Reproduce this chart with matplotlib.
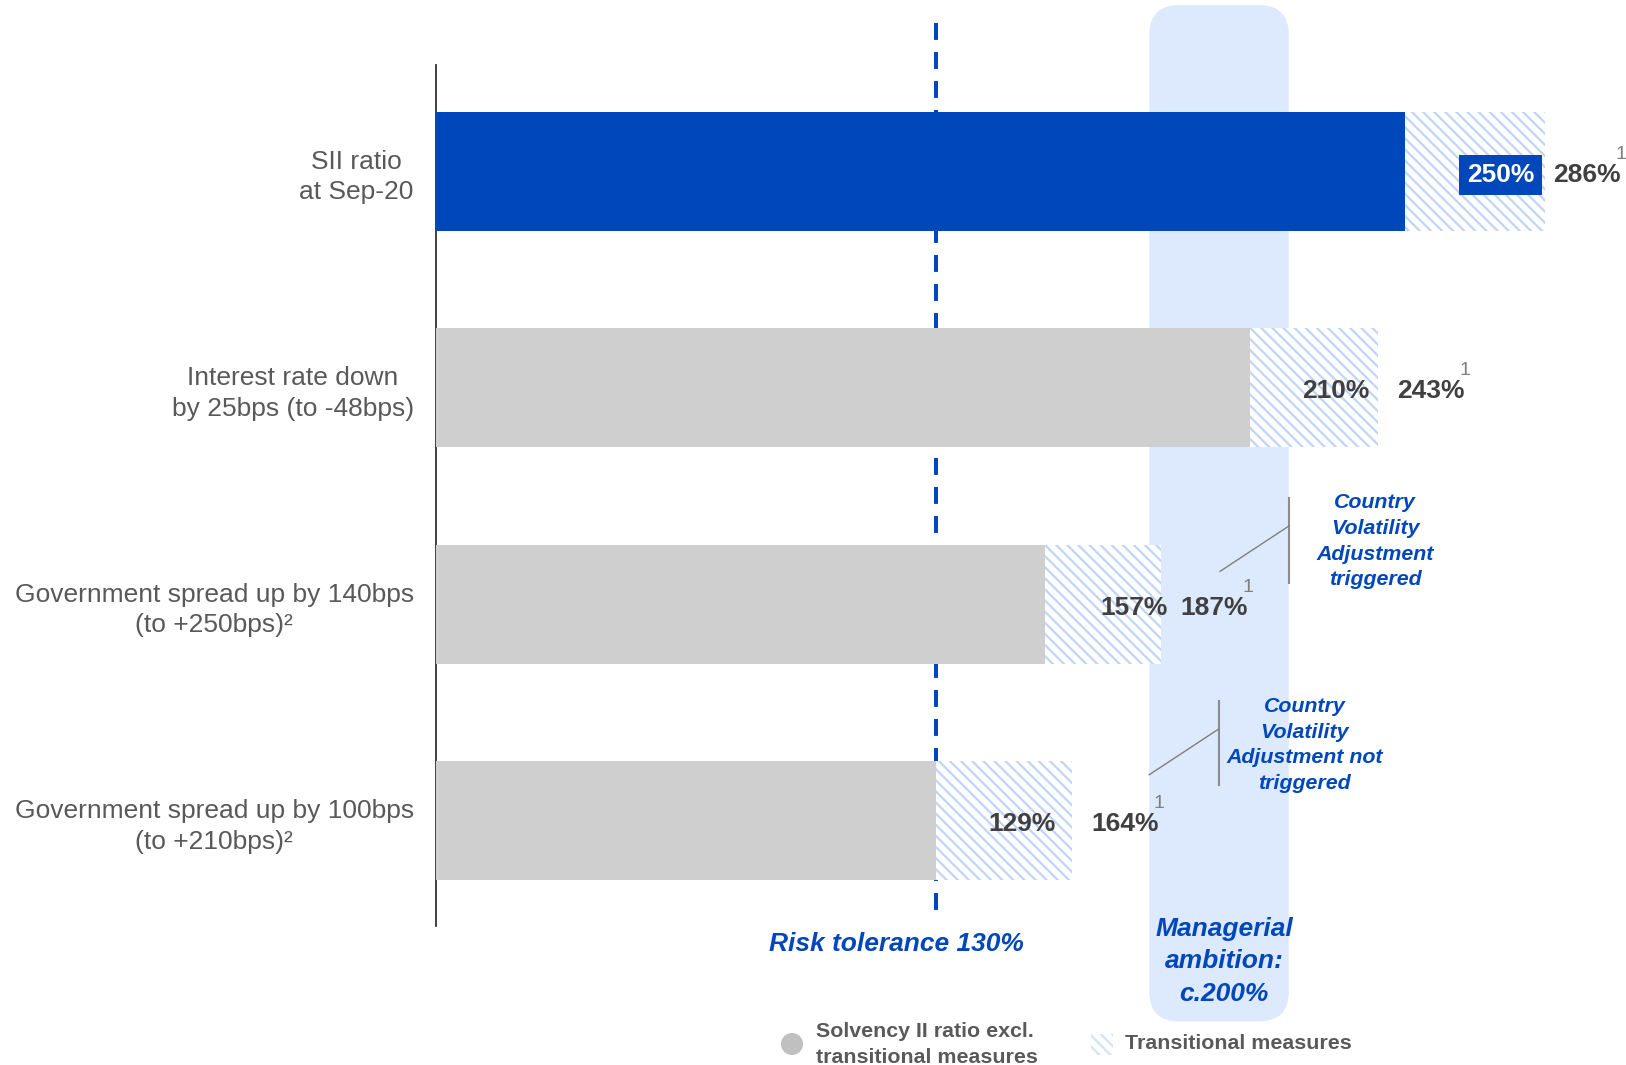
import matplotlib
matplotlib.use('Agg')
import matplotlib.pyplot as plt
from matplotlib.patches import FancyBboxPatch, Circle, Rectangle

plt.rcParams['font.family'] = ['Liberation Sans', 'DejaVu Sans']
plt.rcParams['hatch.linewidth'] = 1.6

# 数据
scenarios = ['SII ratio\nat Sep-20',
             'Interest rate down\nby 25bps (to -48bps)',
             'Government spread up by 140bps\n(to +250bps)\u00b2',
             'Government spread up by 100bps\n(to +210bps)\u00b2']
excl_tm = [250, 210, 157, 129]      # Solvency II ratio excl. transitional measures
incl_tm = [286, 243, 187, 164]      # incl. transitional measures
risk_tolerance = 130
ambition = (184, 220)               # managerial ambition band
cva_notes = ['Country\nVolatility\nAdjustment\ntriggered',
             'Country\nVolatility\nAdjustment not\ntriggered']

BLUE = '#0047BB'
GREY = '#D0CFD0'
HATCH = '#C0D5F7'
BAND = '#DDE9FC'
TXT = '#404040'
LBL = '#595959'

fig = plt.figure(figsize=(16.26, 10.65), dpi=100)
ax = fig.add_axes([436 / 1626, 1 - 926 / 1065, 1190 / 1626, (926 - 65.3) / 1065])
ax.set_xlim(0, 307)
ax.set_ylim(3.486, -0.491)

ypos = list(range(len(scenarios)))

# 背景带
band = FancyBboxPatch((ambition[0], -0.769), ambition[1] - ambition[0], 4.696,
                      boxstyle='round,pad=0,rounding_size=7.7', mutation_aspect=1 / 55.8,
                      fc=BAND, ec='none', zorder=1, clip_on=False)
ax.add_patch(band)

# 风险容忍线
ax.plot([risk_tolerance - 1, risk_tolerance - 1], [-0.688, 3.424], color=BLUE, lw=2.9,
        dashes=(4.2, 3), zorder=2, clip_on=False)

# 柱子
ax.barh(ypos, excl_tm, height=0.55, color=[BLUE, GREY, GREY, GREY], zorder=3)
ax.barh(ypos, [t - b for b, t in zip(excl_tm, incl_tm)], left=excl_tm, height=0.55,
        color='white', edgecolor=HATCH, hatch='\\\\\\', linewidth=0, zorder=3)

inner_pad = [7.5, 6, -5.2, 11.2]
outer_pad = [6, 14, 14, 14]
for i, (b, t) in enumerate(zip(excl_tm, incl_tm)):
    if i == 0:
        ax.annotate(f'{b}%', xy=(t, i + 0.015), xytext=(-inner_pad[i], 0),
                    textcoords='offset points', ha='right', va='center', color='white',
                    fontsize=19, weight='bold', zorder=5,
                    bbox=dict(boxstyle='square,pad=0.3', fc=BLUE, ec='none'))
    else:
        ax.annotate(f'{b}%', xy=(t, i + 0.015), xytext=(-inner_pad[i], 0),
                    textcoords='offset points', ha='right', va='center', color=TXT,
                    fontsize=19, weight='bold', zorder=5)
    out = ax.annotate(f'{t}%', xy=(t, i + 0.015), xytext=(outer_pad[i], 0),
                      textcoords='offset points', ha='left', va='center',
                      color=TXT, fontsize=19, weight='bold', zorder=5,
                      annotation_clip=False)
    ax.annotate('1', xy=(0.92, 1.0), xycoords=out, ha='left', va='bottom',
                color='#7f7f7f', fontsize=14, annotation_clip=False)

# 注释
ax.plot([220.1, 220.1], [1.507, 1.900], color='#8c8c8c', lw=1.5, zorder=4)
ax.plot([202.3, 220.1], [1.847, 1.637], color='#7f7f7f', lw=1, zorder=4)
ax.text(242.3, 1.708, cva_notes[0], ha='center', va='center', color=BLUE,
        fontsize=15.4, style='italic', weight='bold', linespacing=1.44)

ax.plot([201.9, 201.9], [2.446, 2.835], color='#8c8c8c', lw=1.5, zorder=4)
ax.plot([184.0, 201.9], [2.787, 2.576], color='#7f7f7f', lw=1, zorder=4)
ax.text(224.1, 2.650, cva_notes[1], ha='center', va='center', color=BLUE,
        fontsize=15.4, style='italic', weight='bold', linespacing=1.44, zorder=5)

ax.text(118.7, 3.568, f'Risk tolerance {risk_tolerance}%', ha='center', va='center',
        color=BLUE, fontsize=19, style='italic', weight='bold')
ax.text(sum(ambition) / 2 + 1.3, 3.648, 'Managerial\nambition:\nc.200%', ha='center',
        va='center', color=BLUE, fontsize=19, style='italic', weight='bold',
        linespacing=1.45, zorder=5)

# 坐标轴
ax.set_yticks(ypos, scenarios)
for lbl in ax.get_yticklabels():
    lbl.set_multialignment('center')
    lbl.set_linespacing(1.33)
ax.tick_params(axis='y', length=0, pad=16, labelsize=19, labelcolor=LBL)
ax.set_xticks([])
for s in ['top', 'right', 'bottom']:
    ax.spines[s].set_visible(False)
ax.spines['left'].set_color('#333333')
ax.spines['left'].set_linewidth(1.3)

# 图例
fig.add_artist(Circle((7.92, 0.21), 0.11, transform=fig.dpi_scale_trans,
                      fc='#C0C0C0', ec='none'))
fig.text(8.16, 0.205, 'Solvency II ratio excl.\ntransitional measures', transform=fig.dpi_scale_trans,
         ha='left', va='center', color=LBL, fontsize=15.4, weight='bold', linespacing=1.45)
fig.add_artist(Rectangle((10.91, 0.10), 0.22, 0.21, transform=fig.dpi_scale_trans,
                         fc='white', ec='#D3E2F8', hatch='\\\\\\', lw=0))
fig.text(11.25, 0.215, 'Transitional measures', transform=fig.dpi_scale_trans,
         ha='left', va='center', color=LBL, fontsize=15.4, weight='bold')

fig.savefig('out.png', dpi=100)
